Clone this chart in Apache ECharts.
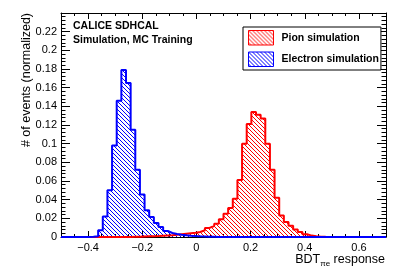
<!DOCTYPE html>
<html><head><meta charset="utf-8">
<script src="https://cdn.jsdelivr.net/npm/echarts@6/dist/echarts.min.js"></script>
<style>html,body{margin:0;padding:0;background:#fff}#c{width:407px;height:276px}</style>
</head><body><div id="c"></div>
<script>
// ---- data ----
const xMin = -0.5, xMax = 0.7, nBins = 70;
const pionValues = [
  0,0,0,0,0,0,0,0,0,0,
  0,0,0,0,0,0.0002,0.0003,0.0005,0.0007,0.0009,
  0.0011,0.0014,0.0017,0.002,0.0025,0.003,0.0035,0.004,0.0045,0.0054,
  0.0072,0.0097,0.0118,0.0143,0.019,0.025,0.031,0.041,0.061,0.100,
  0.121,0.134,0.131,0.127,0.100,0.072,0.042,0.023,0.016,0.012,
  0.008,0.0054,0.003,0.0015,0.0008,0.0004,0.0002,0.0001,0,0,
  0,0,0,0,0,0,0,0,0,0
];
const electronValues = [
  0,0,0,0,0,0,0.0002,0.0008,0.0072,0.022,
  0.050,0.098,0.146,0.179,0.165,0.115,0.072,0.0455,0.0287,0.0215,
  0.015,0.0107,0.0064,0.0043,0.0032,0.0025,0.0019,0.0014,0.0010,0.0007,
  0.0005,0.0003,0.0002,0.0001,0,0,0,0,0,0,
  0,0,0,0,0,0,0,0,0,0,
  0,0,0,0,0,0,0,0,0,0,
  0,0,0,0,0,0,0,0,0,0
];
const xMajorTicks = [-0.4,-0.2,0,0.2,0.4,0.6];
const xMinorTicks = [-0.45,-0.35,-0.3,-0.25,-0.15,-0.1,-0.05,0.05,0.1,0.15,0.25,0.3,0.35,0.45,0.5,0.55,0.65];
const yMax = 0.24, yStep = 0.02;

// ---- helpers ----
const FONT = 'Liberation Sans, Arial, Helvetica, sans-serif';
const binW = (xMax - xMin) / nBins;
function hist(vals){
  const d = vals.map((v,i)=>[xMin + i*binW, v]);
  d.push([xMax, vals[vals.length-1]]);
  return d;
}
function hatch(color){
  const c = document.createElement('canvas'); c.width = c.height = 4;
  const g = c.getContext('2d'); g.fillStyle = color;
  for (let i=0;i<4;i++) g.fillRect(i,i,1,1);
  return {image:c, repeat:'repeat'};
}
const fmt = v => { const s = String(+(+v).toFixed(3)); return v < 0 ? '\u2212' + s.slice(1) : s; };
const tickStyle = {color:'#000', width:1};
function xAx(pos, major, label){
  return {type:'value', min:xMin, max:xMax, position:pos,
    axisLine:{show:major, onZero:false, lineStyle:tickStyle},
    axisTick:{show:true, inside:true, length: major?6:3, customValues: major?xMajorTicks:xMinorTicks, lineStyle:tickStyle},
    axisLabel: label ? {show:true, customValues:xMajorTicks, formatter:fmt, fontSize:11, color:'#000', margin:5, fontFamily:FONT} : {show:false},
    splitLine:{show:false}};
}
function yAx(pos, label){
  return {type:'value', min:0, max:yMax, interval:yStep, position:pos,
    axisLine:{show:true, onZero:false, lineStyle:tickStyle},
    axisTick:{show:true, inside:true, length:9, lineStyle:tickStyle},
    minorTick:{show:true, splitNumber:5, length:4.5, lineStyle:tickStyle},
    axisLabel: label ? {show:true, showMaxLabel:false, formatter:fmt, fontSize:11, color:'#000', margin:4, fontFamily:FONT} : {show:false},
    splitLine:{show:false}, minorSplitLine:{show:false}};
}

const chart = echarts.init(document.getElementById('c'), null, {renderer:'canvas'});
chart.setOption({
  animation:false,
  backgroundColor:'#fff',
  grid:{left:61, top:13, width:325, height:224, containLabel:false},
  title:{text:'CALICE SDHCAL\nSimulation, MC Training', left:73, top:19, padding:0,
    textStyle:{fontFamily:FONT, fontSize:10.5, fontWeight:'bold', color:'#000', lineHeight:14.3}},
  legend:{orient:'vertical', left:243, top:27, padding:[3,2,3,5], itemGap:6, itemWidth:25, itemHeight:14.5,
    borderColor:'#000', borderWidth:1, backgroundColor:'#fff', selectedMode:false,
    textStyle:{fontFamily:FONT, fontSize:10.5, fontWeight:'bold', color:'#000', padding:[0,0,0,3]},
    data:[
      {name:'Pion simulation', icon:'rect', itemStyle:{color:hatch('#ff0000'), borderColor:'#ff0000', borderWidth:1}},
      {name:'Electron simulation', icon:'rect', itemStyle:{color:hatch('#0000ff'), borderColor:'#0000ff', borderWidth:1}}
    ]},
  xAxis:[xAx('bottom', true, true), xAx('bottom', false, false), xAx('top', true, false), xAx('top', false, false)],
  yAxis:[yAx('left', true), yAx('right', false)],
  series:[
    {name:'Pion simulation', type:'line', step:'end', symbol:'none', xAxisIndex:0, yAxisIndex:0,
     data:hist(pionValues), lineStyle:{color:'#ff0000', width:2}, itemStyle:{color:'#ff0000'},
     areaStyle:{color:hatch('#ff0000'), opacity:1}},
    {name:'Electron simulation', type:'line', step:'end', symbol:'none', xAxisIndex:0, yAxisIndex:0,
     data:hist(electronValues), lineStyle:{color:'#0000ff', width:2}, itemStyle:{color:'#0000ff'},
     areaStyle:{color:hatch('#0000ff'), opacity:1}}
  ],
  graphic:[
    {type:'text', x:27, y:13, rotation:Math.PI/2,
     style:{text:'# of events (normalized)', align:'right', verticalAlign:'middle', fontFamily:FONT, fontSize:12.5, fill:'#000'}},
    {type:'text', x:385, y:260,
     style:{text:'{a|BDT}{s|\u03c0e}{a| response}', align:'right', verticalAlign:'middle',
       rich:{a:{fontFamily:FONT, fontSize:12.5, fill:'#000', lineHeight:16, verticalAlign:'middle'},
             s:{fontFamily:FONT, fontSize:8, fill:'#000', lineHeight:16, verticalAlign:'bottom', padding:[5,0,0,0]}}}}
  ]
});
</script></body></html>
